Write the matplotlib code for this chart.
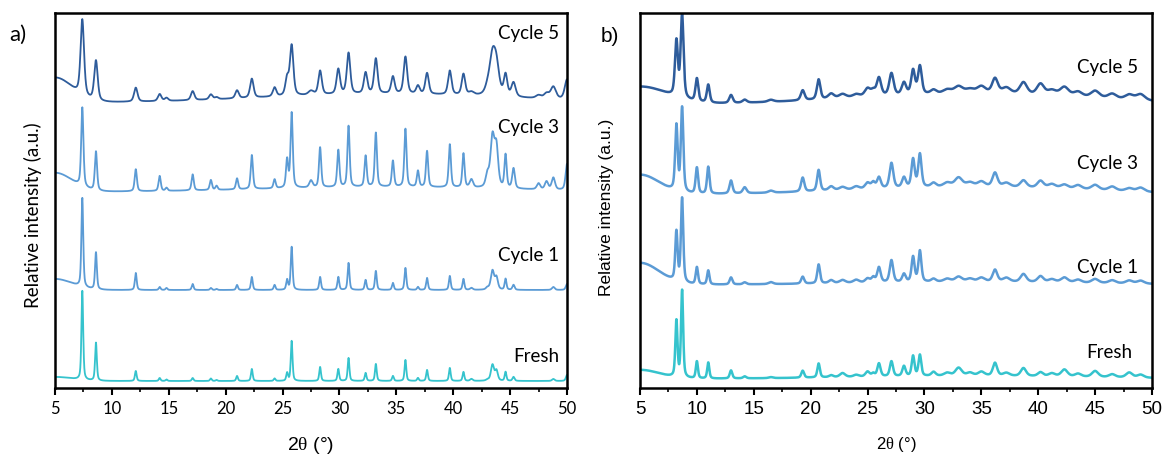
import numpy as np
import matplotlib
matplotlib.use("Agg")
import matplotlib.pyplot as plt

# ---------------- data ----------------
# y values are in relative units (0 = bottom of axes, 375 = top)
series_names = ["Fresh", "Cycle 1", "Cycle 3", "Cycle 5"]

# Panel a: peak positions (2theta, deg) and relative peak width factors
pos_a = [7.4, 8.6, 12.1, 14.2, 14.8, 17.1, 18.7, 19.2, 21.0, 22.3, 24.3, 25.4, 25.8,
         27.5, 28.3, 29.9, 30.8, 32.3, 33.2, 34.7, 35.8, 36.9, 37.7, 39.7, 40.9,
         41.6, 43.0, 43.45, 43.8, 44.6, 45.3, 47.5, 48.2, 48.8, 50.0]
wid_a = [1, 1, 1, 1, 1, 1, 1, 1, 1, 1, 1, 1, 1,
         1.5, 1, 1, 1, 1, 1, 1, 1, 1, 1, 1, 1,
         1.5, 1.5, 1.8, 1.6, 1, 1.2, 1.5, 1.5, 1.5, 1.3]
fresh_a = [89, 38, 10, 3, 1.5, 3, 2.5, 1, 5, 12, 2.5, 8, 40, 0, 14, 12, 23, 8, 17, 5,
           21, 3, 11, 13, 9, 2, 1, 16, 10, 9, 4, 0, 0, 2, 6]
cycle1_a = [89, 37, 17, 3, 2, 6, 2, 1, 5, 13, 5, 10, 43, 0, 13, 13, 27, 10, 19, 7,
            22, 3, 12, 14, 11, 2, 2, 19, 12, 11, 5, 0, 0, 3, 6]
cycle3_a = [79, 39, 22, 15, 3, 16, 10, 4, 11, 34, 9, 28, 75, 7, 40, 37, 61, 31, 54, 26,
            58, 16, 36, 43, 34, 8, 12, 50, 38, 33, 20, 6, 8, 12, 26]
cycle5_a = [76, 40, 14, 7, 3, 9, 5, 2, 8, 19, 9, 17, 50, 4, 24, 25, 41, 21, 35, 17,
            37, 8, 21, 24, 21, 3, 5, 38, 25, 21, 14, 3, 5, 12, 20]
base_a = [7, 98, 196, 285]          # flat background level
hump_a = [0, 0, 5, 9]               # broad amorphous hump height
lowangle_a = [4, 11, 19, 25]        # background rise at low angle
fwhm_a = [0.18, 0.19, 0.23, 0.36]

# Panel b
pos_b = [8.2, 8.7, 10.0, 11.0, 13.0, 14.2, 16.5, 19.3, 20.7, 21.8, 22.8, 24.0, 25.0,
         25.5, 26.0, 27.1, 28.2, 29.0, 29.6, 30.8, 32.0, 33.0, 34.0, 35.0, 36.2, 37.2,
         38.7, 40.2, 41.2, 42.3, 43.5, 45.0, 46.5, 48.0, 49.0]
wid_b = [1, 1, 1, 1, 1.2, 1.5, 2, 1.3, 1.2, 2, 2.5, 2.5, 2, 1.5, 1.5, 1.5, 1.5, 1.3, 1.3,
         2, 3, 3, 3, 3, 2, 3, 2.5, 2.5, 3, 3, 3, 3, 3, 3, 3]
fresh_b = [56, 87, 17, 16, 8, 2, 1, 7, 14, 2, 4, 2, 5, 3, 13, 15, 10, 20, 21, 4, 3, 8,
           3, 4, 13, 3, 8, 4, 3, 7, 3, 6, 3, 5, 3]
cycle1_b = [49, 84, 17, 14, 7, 2, 2, 7, 19, 3, 3, 3, 4, 5, 15, 22, 8, 25, 31, 3, 3, 5,
            3, 4, 12, 4, 8, 6, 3, 5, 3, 4, 3, 3, 3]
cycle3_b = [65, 84, 26, 27, 13, 6, 2, 14, 21, 4, 3, 3, 6, 6, 11, 25, 10, 28, 33, 4, 4,
            9, 4, 5, 14, 4, 7, 7, 4, 4, 4, 5, 4, 3, 4]
cycle5_b = [55, 83, 23, 18, 8, 3, 2, 10, 20, 5, 4, 3, 8, 5, 18, 22, 12, 24, 28, 4, 4,
            7, 4, 7, 15, 6, 12, 11, 5, 9, 5, 7, 5, 5, 6]
base_b = [9, 103, 193, 283]
hump_b = [3, 3, 8, 11]
lowangle_b = [9, 22, 20, 18]
fwhm_b = [0.22, 0.24, 0.26, 0.30]

colors = ["#35C3CD", "#5B9BD5", "#5B9BD5", "#2E5C9B"]
xticks = [5, 10, 15, 20, 25, 30, 35, 40, 45, 50]

# label positions (data coords)
label_y_a = [32, 132, 260, 355]
label_y_b = [35, 121, 225, 321]


def profile(x, positions, heights, widths, fwhm, base, hump, lowamp, lowsig):
    y = np.full_like(x, float(base))
    y += hump * np.exp(-(x - 34.0) ** 2 / (2 * 11.0 ** 2))
    y += lowamp * np.exp(-(x - 5.0) ** 2 / (2 * lowsig ** 2))
    for p, h, w in zip(positions, heights, widths):
        f = fwhm * w
        d2 = 4 * (x - p) ** 2 / f ** 2
        y += h * (0.5 / (1 + d2) + 0.5 * np.exp(-np.log(2) * d2))
    return y


W, H = 1163, 455
fig = plt.figure(figsize=(W / 100, H / 100), dpi=100)
plt.rcParams['mathtext.fontset'] = 'custom'
plt.rcParams['mathtext.rm'] = 'Liberation Serif'

axa = fig.add_axes([55 / W, 1 - 388 / H, 512 / W, 375 / H])
axb = fig.add_axes([640 / W, 1 - 388 / H, 512 / W, 375 / H])

x = np.linspace(5, 50, 4501)

data_a = [fresh_a, cycle1_a, cycle3_a, cycle5_a]
data_b = [fresh_b, cycle1_b, cycle3_b, cycle5_b]

for i in range(4):
    ya = profile(x, pos_a, data_a[i], wid_a, fwhm_a[i], base_a[i], hump_a[i],
                 lowangle_a[i], 1.5)
    axa.plot(x, ya, color=colors[i], lw=1.3)
    yb = profile(x, pos_b, data_b[i], wid_b, fwhm_b[i], base_b[i], hump_b[i],
                 lowangle_b[i], 2.4 if i == 3 else 1.7)
    axb.plot(x, yb, color=colors[i], lw=1.8)

calibri_like = ['Lato', 'DejaVu Sans']
arial_like = ['Liberation Sans', 'DejaVu Sans']

for ax, tick_font, tick_size in [(axa, calibri_like, 12), (axb, arial_like, 13.5)]:
    ax.set_xlim(5, 50)
    ax.set_ylim(0, 375)
    ax.set_yticks([])
    ax.set_xticks(xticks)
    ax.set_xticklabels([str(t) for t in xticks], family=tick_font, size=tick_size)
    ax.set_xticks([t + 2.5 for t in xticks[:-1]], minor=True)
    ax.tick_params(axis='x', which='major', direction='out', length=5, width=1.5, pad=4)
    ax.tick_params(axis='x', which='minor', direction='out', length=3, width=1.2)
    for s in ax.spines.values():
        s.set_linewidth(1.8)

for i, name in enumerate(series_names):
    axa.text(49.3, label_y_a[i], name, ha='right', va='center', family=calibri_like, size=13.5)
    axb.text(48.8 if name != "Fresh" else 48.3, label_y_b[i], name, ha='right', va='center',
             family=calibri_like, size=13.5)

fig.text(9 / W, 1 - 35 / H, "a)", family=calibri_like, size=16, ha='left', va='center')
fig.text(601 / W, 1 - 36 / H, "b)", family=arial_like, size=15, ha='left', va='center')

fig.text(33 / W, 1 - 215 / H, "Relative intensity (a.u.)", rotation=90, ha='center',
         va='center', family=calibri_like, size=13.5)
fig.text(607 / W, 1 - 207 / H, "Relative intensity (a.u.)", rotation=90, ha='center',
         va='center', family=arial_like, size=12.5)

fig.text(311 / W, 1 - 445 / H, r"2$\mathrm{\theta}$ (°)", ha='center', va='center',
         family=arial_like, size=14)
fig.text(896 / W, 1 - 445 / H, r"2$\mathrm{\theta}$ (°)", ha='center', va='center',
         family=arial_like, size=12)

fig.savefig("out.png", dpi=100)
